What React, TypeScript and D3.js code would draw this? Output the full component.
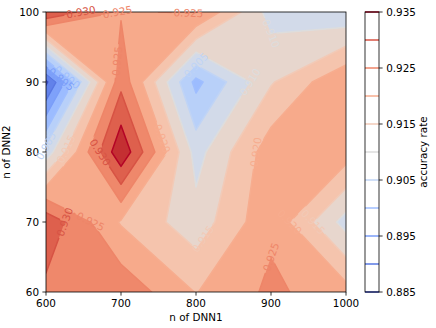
import React from 'react';
import * as d3 from 'd3';

const W = 436;
const H = 328;

const nDnn1 = [600, 700, 800, 900, 1000];
const nDnn2 = [60, 70, 80, 90, 100];
// accuracy rate, one list per n of DNN2, one entry per n of DNN1
const acc60 = [0.9287, 0.9286, 0.9198, 0.926, 0.922];
const acc70 = [0.9335, 0.9195, 0.912, 0.924, 0.908];
const acc80 = [0.907, 0.939, 0.908, 0.923, 0.9225];
const acc90 = [0.884, 0.9285, 0.8985, 0.9145, 0.9245];
const acc100 = [0.9348, 0.9245, 0.9255, 0.908, 0.906];

const fillLevels = [0.88, 0.885, 0.89, 0.895, 0.9, 0.905, 0.91, 0.915, 0.92, 0.925, 0.93, 0.935, 0.94];
const lineLevels = [0.885, 0.89, 0.895, 0.9, 0.905, 0.91, 0.915, 0.92, 0.925, 0.93, 0.935];
const cbarTicks = [0.885, 0.895, 0.905, 0.915, 0.925, 0.935];
const xTicks = [600, 700, 800, 900, 1000];
const yTicks = [60, 70, 80, 90, 100];
// inline contour labels: [level, n of DNN1, n of DNN2] near where they sit
const labelSpots: [number, number, number][] = [
  [0.93, 650, 100], [0.925, 700, 100], [0.925, 790, 100],
  [0.925, 694, 93], [0.93, 673, 80], [0.92, 757, 82], [0.92, 878, 80],
  [0.91, 899, 96], [0.91, 884, 90], [0.905, 797, 93],
  [0.9, 636, 91.7], [0.895, 627, 91.3], [0.905, 602, 80], [0.915, 635, 80],
  [0.93, 625, 70], [0.925, 659, 70], [0.915, 800, 68.3], [0.925, 900, 65],
  [0.92, 923, 70], [0.915, 955, 70],
];

// matplotlib coolwarm
const cwColors = ['#3b4cc0', '#445acc', '#4d68d7', '#5775e1', '#6282ea', '#6c8ef1', '#779af7', '#82a5fb',
  '#8db0fe', '#98b9ff', '#a3c2ff', '#aec9fd', '#b8d0f9', '#c2d5f4', '#ccd9ee', '#d5dbe6', '#dddddd',
  '#e5d8d1', '#ecd3c5', '#f1ccb9', '#f5c4ad', '#f7bba0', '#f7b194', '#f7a687', '#f49a7b', '#f18d6f',
  '#ec7f63', '#e57058', '#de604d', '#d55042', '#cb3e38', '#c0282f', '#b40426'];
const coolwarm = d3.scaleLinear<string>()
  .domain(cwColors.map((_, i) => i / (cwColors.length - 1)))
  .range(cwColors)
  .interpolate(d3.interpolateRgb)
  .clamp(true);

const font = 'DejaVu Sans';
const fs = 10.4;

type Pt = [number, number];

const App = () => {
  const grid = [acc60, acc70, acc80, acc90, acc100];
  const x = d3.scaleLinear().domain([600, 1000]).range([46, 346]);
  const y = d3.scaleLinear().domain([60, 100]).range([292, 12]);
  const cb = d3.scaleLinear().domain([0.885, 0.935]).range([292, 12]);
  const fillNorm = d3.scaleLinear().domain([fillLevels[0], fillLevels[fillLevels.length - 1]]).range([0, 1]);
  const lineNorm = d3.scaleLinear().domain([lineLevels[0], lineLevels[lineLevels.length - 1]]).range([0, 1]);
  const px = (p: Pt): Pt => [x(p[0]), y(p[1])];

  // cells of the grid, corners counter-clockwise
  const cells: { p: Pt[]; z: number[] }[] = [];
  for (let j = 0; j < nDnn2.length - 1; j++) {
    for (let i = 0; i < nDnn1.length - 1; i++) {
      cells.push({
        p: [[nDnn1[i], nDnn2[j]], [nDnn1[i + 1], nDnn2[j]], [nDnn1[i + 1], nDnn2[j + 1]], [nDnn1[i], nDnn2[j + 1]]],
        z: [grid[j][i], grid[j][i + 1], grid[j + 1][i + 1], grid[j + 1][i]],
      });
    }
  }

  const cross = (c, k: number, t: number): Pt => {
    const a = c.p[k], b = c.p[(k + 1) % 4];
    const za = c.z[k], zb = c.z[(k + 1) % 4];
    const f = (t - za) / (zb - za);
    return [a[0] + f * (b[0] - a[0]), a[1] + f * (b[1] - a[1])];
  };

  // region z >= t inside a cell (saddles decided by the cell mean, like matplotlib)
  const above = (c, t: number): Pt[][] => {
    const up = c.z.map(v => v >= t);
    const n = up.filter(Boolean).length;
    if (n === 0) return [];
    const mid = d3.mean(c.z) as number;
    if (n === 2 && up[0] === up[2] && mid < t) {
      return [0, 1, 2, 3].filter(k => up[k]).map(k => [cross(c, (k + 3) % 4, t), c.p[k], cross(c, k, t)]);
    }
    const poly: Pt[] = [];
    for (let k = 0; k < 4; k++) {
      if (up[k]) poly.push(c.p[k]);
      if (up[k] !== up[(k + 1) % 4]) poly.push(cross(c, k, t));
    }
    return [poly];
  };

  const segs = (c, t: number): [Pt, Pt][] => {
    const up = c.z.map(v => v >= t);
    const edges = [0, 1, 2, 3].filter(k => up[k] !== up[(k + 1) % 4]);
    if (edges.length === 0) return [];
    if (edges.length === 2) return [[cross(c, edges[0], t), cross(c, edges[1], t)]];
    const midUp = (d3.mean(c.z) as number) >= t;
    return [0, 1, 2, 3].filter(k => up[k] !== midUp).map(k => [cross(c, (k + 3) % 4, t), cross(c, k, t)]);
  };

  const bands = fillLevels.slice(0, -1).map((t, l) => {
    const polys = cells.flatMap(c => above(c, t));
    const d = polys.map(pl => 'M' + pl.map(p => px(p).join(',')).join('L') + 'Z').join('');
    const color = coolwarm(fillNorm((t + fillLevels[l + 1]) / 2));
    return { d, color };
  });

  const allZ = grid.flat();
  const zMin = d3.min(allZ) as number, zMax = d3.max(allZ) as number;
  const lines = lineLevels.filter(t => t > zMin && t < zMax).map(t => {
    const s = cells.flatMap(c => segs(c, t)).map(([a, b]) => [px(a), px(b)] as [Pt, Pt]);
    const d = s.map(([a, b]) => `M${a[0]},${a[1]}L${b[0]},${b[1]}`).join('');
    return { t, s, d, color: coolwarm(lineNorm(t)) };
  });

  const fmt = d3.format('.3f');
  const labels = labelSpots.map(([t, lx, ly]) => {
    const line = lines.find(l => Math.abs(l.t - t) < 1e-9);
    const target = px([lx, ly]);
    let best = { d: Infinity, p: target, ang: 0 };
    (line ? line.s : []).forEach(([a, b]) => {
      const dx = b[0] - a[0], dy = b[1] - a[1];
      const len2 = dx * dx + dy * dy || 1;
      const f = Math.max(0, Math.min(1, ((target[0] - a[0]) * dx + (target[1] - a[1]) * dy) / len2));
      const p: Pt = [a[0] + f * dx, a[1] + f * dy];
      const dist = Math.hypot(p[0] - target[0], p[1] - target[1]);
      if (dist < best.d) {
        let ang = (Math.atan2(dy, dx) * 180) / Math.PI;
        if (ang > 90) ang -= 180;
        if (ang < -90) ang += 180;
        best = { d: dist, p, ang };
      }
    });
    const text = fmt(t);
    const w = fs * 2.862;
    return { text, cx: best.p[0], cy: best.p[1], ang: best.ang, w, color: coolwarm(lineNorm(t)) };
  });

  return (
    <svg width={W} height={H} style={{ position: 'absolute', left: 0, top: 0, background: '#fff' }}
      fontFamily={font} fontSize={fs}>
      <defs>
        <clipPath id="plotArea">
          <rect x={46} y={12} width={300} height={280} />
        </clipPath>
        <mask id="labelGaps" maskUnits="userSpaceOnUse" x={0} y={0} width={W} height={H}>
          <rect x={0} y={0} width={W} height={H} fill="white" />
          {labels.map((lb, i) => (
            <rect key={i} x={-lb.w / 2 - 2} y={-fs / 2} width={lb.w + 4} height={fs} fill="black"
              transform={`translate(${lb.cx},${lb.cy}) rotate(${lb.ang})`} />
          ))}
        </mask>
      </defs>

      <g clipPath="url(#plotArea)">
        {bands.map((b, i) => <path key={i} d={b.d} fill={b.color} />)}
        <g mask="url(#labelGaps)">
          {lines.map((l, i) => (
            <path key={i} d={l.d} fill="none" stroke={l.color} strokeWidth={1.5} strokeLinecap="round" />
          ))}
        </g>
      </g>

      {/* axes frame and ticks */}
      <rect x={46} y={12} width={300} height={280} fill="none" stroke="#000" strokeWidth={0.8} />
      {xTicks.map(v => (
        <g key={v} transform={`translate(${x(v)},292)`}>
          <line y2={3.6} stroke="#000" strokeWidth={0.8} />
          <text y={15} textAnchor="middle">{v}</text>
        </g>
      ))}
      {yTicks.map(v => (
        <g key={v} transform={`translate(46,${y(v)})`}>
          <line x2={-3.6} stroke="#000" strokeWidth={0.8} />
          <text x={-7} dy="0.36em" textAnchor="end">{v}</text>
        </g>
      ))}
      <text x={196} y={321} textAnchor="middle">n of DNN1</text>
      <text transform="translate(10,152) rotate(-90)" textAnchor="middle">n of DNN2</text>

      {/* inline contour labels */}
      {labels.map((lb, i) => (
        <text key={i} transform={`translate(${lb.cx},${lb.cy}) rotate(${lb.ang})`} textAnchor="middle"
          dy="0.36em" fill={lb.color}>{lb.text}</text>
      ))}

      {/* colorbar of the contour lines */}
      <rect x={365} y={12} width={14} height={280} fill="#fff" />
      {lineLevels.map(t => (
        <line key={t} x1={365} x2={379} y1={cb(t)} y2={cb(t)} stroke={coolwarm(lineNorm(t))} strokeWidth={1.5} />
      ))}
      <rect x={365} y={12} width={14} height={280} fill="none" stroke="#000" strokeWidth={0.8} />
      {cbarTicks.map(t => (
        <g key={t} transform={`translate(379,${cb(t)})`}>
          <line x2={3.6} stroke="#000" strokeWidth={0.8} />
          <text x={7.2} dy="0.36em">{fmt(t)}</text>
        </g>
      ))}
      <text transform="translate(427,152) rotate(-90)" textAnchor="middle">accuracy rate</text>
    </svg>
  );
};

export default App;
